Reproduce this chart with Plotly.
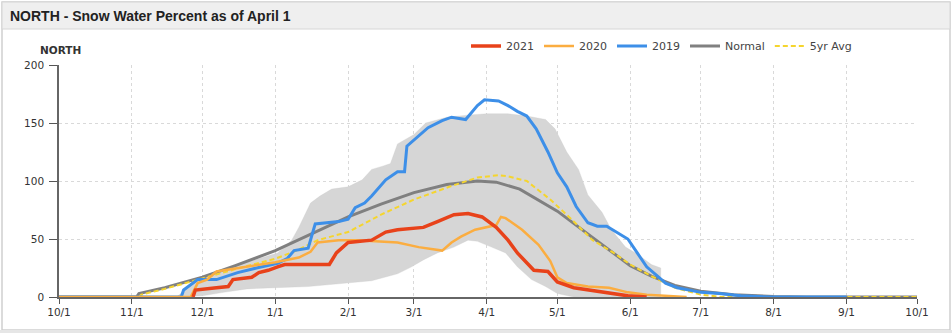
import plotly.graph_objects as go

# ---- data (water year Oct 2020 - Sep 2021), values in percent ----
Y2021_DATES = ["2020-11-27", "2020-11-28", "2020-12-07", "2020-12-12", "2020-12-14",
               "2020-12-22", "2020-12-25", "2020-12-29", "2021-01-02", "2021-01-05", "2021-01-11",
               "2021-01-24", "2021-01-27", "2021-02-01", "2021-02-11", "2021-02-17", "2021-02-22",
               "2021-03-05", "2021-03-11", "2021-03-18", "2021-03-24", "2021-03-30", "2021-04-05",
               "2021-04-10", "2021-04-14", "2021-04-21", "2021-04-27", "2021-05-01", "2021-05-08",
               "2021-05-20", "2021-05-31", "2021-06-08"]
Y2021 = [0, 6, 8, 9, 15, 17, 21, 23, 26, 28, 28, 28, 38, 47, 49, 56, 58, 60, 65, 71, 72, 69, 60,
         49, 38, 23, 22, 13, 8, 4, 1, 0]

Y2020_DATES = ["2020-10-01", "2020-11-26", "2020-11-29", "2020-12-03", "2020-12-07", "2020-12-16",
               "2020-12-25", "2021-01-01", "2021-01-11", "2021-01-16", "2021-01-19", "2021-01-28",
               "2021-02-05", "2021-02-15", "2021-02-22", "2021-03-03", "2021-03-09", "2021-03-13",
               "2021-03-17", "2021-03-21", "2021-03-27", "2021-04-02", "2021-04-05", "2021-04-07",
               "2021-04-09", "2021-04-16", "2021-04-23", "2021-04-28", "2021-05-01", "2021-05-05",
               "2021-05-14", "2021-05-23", "2021-05-31", "2021-06-08", "2021-06-21", "2021-06-25"]
Y2020 = [0, 0, 12, 15, 22, 25, 28, 30, 34, 39, 47, 49, 49, 48, 47, 43, 41, 40, 47, 52, 58, 61, 62,
         69, 68, 58, 45, 31, 17, 12, 9, 8, 4, 2, 0.5, 0]

Y2019_DATES = ["2020-10-01", "2020-11-22", "2020-11-23", "2020-11-29", "2020-12-07", "2020-12-16",
               "2020-12-24", "2021-01-02", "2021-01-06", "2021-01-09", "2021-01-15", "2021-01-18",
               "2021-01-28", "2021-02-01", "2021-02-04", "2021-02-08", "2021-02-11", "2021-02-17",
               "2021-02-22", "2021-02-25", "2021-02-26", "2021-03-03", "2021-03-07", "2021-03-13",
               "2021-03-17", "2021-03-23", "2021-03-28", "2021-03-31", "2021-04-06", "2021-04-10",
               "2021-04-14", "2021-04-18", "2021-04-22", "2021-04-27", "2021-05-01", "2021-05-05",
               "2021-05-09", "2021-05-14", "2021-05-18", "2021-05-22", "2021-05-26", "2021-05-31",
               "2021-06-04", "2021-06-08", "2021-06-12", "2021-06-16", "2021-06-21", "2021-07-01",
               "2021-07-09", "2021-07-18", "2021-07-31", "2021-09-01"]
Y2019 = [0, 0, 6, 15, 15, 21, 25, 29, 33, 40, 42, 63, 65, 67, 77, 81, 87, 101, 108, 108, 130, 139,
         146, 152, 155, 153, 165, 170, 169, 165, 160, 156, 145, 125, 107, 95, 78, 64, 61, 61, 56,
         50, 38, 26, 19, 12, 8, 4, 3, 1, 0, 0]

NORMAL_DATES = ["2020-10-01", "2020-11-03", "2020-11-04", "2020-11-15", "2020-12-01", "2020-12-15",
                "2021-01-01", "2021-01-15", "2021-02-01", "2021-02-15", "2021-03-01", "2021-03-15",
                "2021-03-28", "2021-04-05", "2021-04-15", "2021-05-01", "2021-05-15", "2021-06-01",
                "2021-06-10", "2021-06-20", "2021-07-01", "2021-07-15", "2021-08-01", "2021-08-15",
                "2021-10-01"]
NORMAL = [0, 0, 3, 8, 17, 27, 40, 53, 69, 80, 90, 97, 100, 99, 93, 74, 53, 27, 18, 10, 5, 2, 0.5, 0, 0]

AVG5_DATES = ["2020-10-01", "2020-11-04", "2020-11-05", "2020-11-15", "2020-12-01", "2020-12-15",
              "2021-01-01", "2021-01-10", "2021-01-19", "2021-02-01", "2021-02-15", "2021-03-01",
              "2021-03-16", "2021-03-28", "2021-04-06", "2021-04-10", "2021-04-18", "2021-04-28",
              "2021-05-07", "2021-05-16", "2021-05-25", "2021-06-01", "2021-06-10", "2021-06-20",
              "2021-07-01", "2021-07-10", "2021-10-01"]
AVG5 = [0, 0, 2, 7, 16, 24, 33, 40, 49, 56, 71, 84, 95, 103, 105, 104, 100, 84, 67, 49, 38, 28, 18,
        8, 2, 0, 0]

# min/max range of the period of record
RANGE_HI_DATES = ["2020-11-20", "2020-12-01", "2020-12-15", "2021-01-02", "2021-01-08", "2021-01-11",
                  "2021-01-16", "2021-01-20", "2021-01-25", "2021-02-01", "2021-02-07", "2021-02-11",
                  "2021-02-16", "2021-02-19", "2021-02-22", "2021-03-01", "2021-03-06", "2021-03-10",
                  "2021-03-15", "2021-03-25", "2021-04-01", "2021-04-10", "2021-04-18", "2021-04-26",
                  "2021-04-30", "2021-05-05", "2021-05-10", "2021-05-14", "2021-05-20", "2021-05-24",
                  "2021-05-30", "2021-06-04", "2021-06-10", "2021-06-14", "2021-06-14"]
RANGE_HI = [0, 18, 27, 38, 49, 60, 81, 87, 93, 95, 101, 110, 113, 115, 132, 140, 150, 152, 155, 157,
            158, 158, 156, 153, 145, 125, 110, 88, 73, 58, 43, 37, 28, 25, 0]

RANGE_LO_DATES = ["2020-11-20", "2020-12-01", "2020-12-10", "2020-12-20", "2021-01-01", "2021-01-15",
                  "2021-02-01", "2021-02-11", "2021-02-22", "2021-02-28", "2021-03-05", "2021-03-11",
                  "2021-03-18", "2021-03-24", "2021-03-28", "2021-04-03", "2021-04-09", "2021-04-14",
                  "2021-04-20", "2021-04-26", "2021-05-01", "2021-05-08", "2021-06-14"]
RANGE_LO = [0, 1, 4, 7, 8, 9, 12, 14, 20, 26, 32, 38, 43, 49, 48, 43, 38, 26, 15, 9, 3, 0, 0]

X_RANGE = ["2020-10-01", "2021-10-01"]
Y_TICKS = [0, 50, 100, 150, 200]

# ---- plot-area geometry (pixels) ----
W, H = 952, 333
L, R, T, B = 59, 917, 65, 297


def px(x):
    return (x - L) / (R - L)


def py(y):
    return (B - y) / (B - T)


fig = go.Figure()

# shaded min/max band as one closed polygon
fig.add_trace(go.Scatter(
    x=RANGE_HI_DATES + RANGE_LO_DATES[::-1],
    y=RANGE_HI + RANGE_LO[::-1],
    fill="toself", fillcolor="#d6d6d6", mode="lines",
    line=dict(color="rgba(200,200,200,0.6)", width=0.5),
    showlegend=False, hoverinfo="skip",
))

series = [
    ("Normal", NORMAL_DATES, NORMAL, dict(color="#808080", width=3), 4),
    ("5yr Avg", AVG5_DATES, AVG5, dict(color="#f5d52e", width=2, dash="5px,3px"), 5),
    ("2019", Y2019_DATES, Y2019, dict(color="#3d8fe8", width=3), 3),
    ("2020", Y2020_DATES, Y2020, dict(color="#fbad40", width=2.5), 2),
    ("2021", Y2021_DATES, Y2021, dict(color="#e8421a", width=3.5), 1),
]
for name, xs, ys, line, rank in series:
    fig.add_trace(go.Scatter(x=xs, y=ys, name=name, mode="lines", line=line, legendrank=rank))

shapes = [
    # outer panel border
    dict(type="rect", xref="paper", yref="paper", x0=px(2), x1=px(950), y0=py(330), y1=py(2),
         line=dict(color="#cfcfcf", width=1.5), fillcolor="rgba(0,0,0,0)", layer="below"),
    # title bar
    dict(type="rect", xref="paper", yref="paper", x0=px(2), x1=px(950), y0=py(29), y1=py(2),
         line=dict(color="#d6d6d6", width=1), fillcolor="#efefef", layer="below"),
    # strip under the panel
    dict(type="rect", xref="paper", yref="paper", x0=px(0), x1=px(952), y0=py(333), y1=py(330),
         line=dict(width=0), fillcolor="#e6e6e6", layer="below"),
]

annotations = [
    dict(text="<b>NORTH - Snow Water Percent as of April 1</b>", xref="paper", yref="paper",
         x=px(8), y=py(16), xanchor="left", yanchor="middle", showarrow=False,
         font=dict(family="Liberation Sans", size=14, color="#222")),
    dict(text="<b>NORTH</b>", xref="paper", yref="paper", x=px(60), y=py(50),
         xanchor="center", yanchor="middle", showarrow=False,
         font=dict(family="DejaVu Sans", size=10.5, color="#333")),
]

fig.update_layout(
    width=W, height=H,
    margin=dict(l=L, r=W - R, t=T, b=H - B, pad=0),
    paper_bgcolor="white", plot_bgcolor="rgba(0,0,0,0)",
    font=dict(family="DejaVu Sans", size=10.5, color="#333"),
    shapes=shapes, annotations=annotations,
    showlegend=True,
    legend=dict(orientation="h", x=px(466), y=py(46), xanchor="left", yanchor="middle",
                font=dict(family="DejaVu Sans", size=11, color="#444"),
                bgcolor="rgba(0,0,0,0)", itemwidth=30, tracegroupgap=0),
    xaxis=dict(type="date", range=X_RANGE, dtick="M1", tick0="2020-10-01",
               tickformat="%-m/%-d", ticks="outside", ticklen=5, tickcolor="#555",
               showline=True, linecolor="#666", linewidth=1.5,
               showgrid=True, gridcolor="#d9d9d9", griddash="dot", gridwidth=1,
               zeroline=False, fixedrange=True),
    yaxis=dict(range=[0, 200], tickvals=Y_TICKS, ticks="outside", ticklen=8, tickcolor="#555",
               showline=True, linecolor="#666", linewidth=1.5, ticklabelstandoff=3,
               showgrid=True, gridcolor="#d9d9d9", griddash="dot", gridwidth=1,
               zeroline=False, fixedrange=True),
)

fig.write_html("out.html")
